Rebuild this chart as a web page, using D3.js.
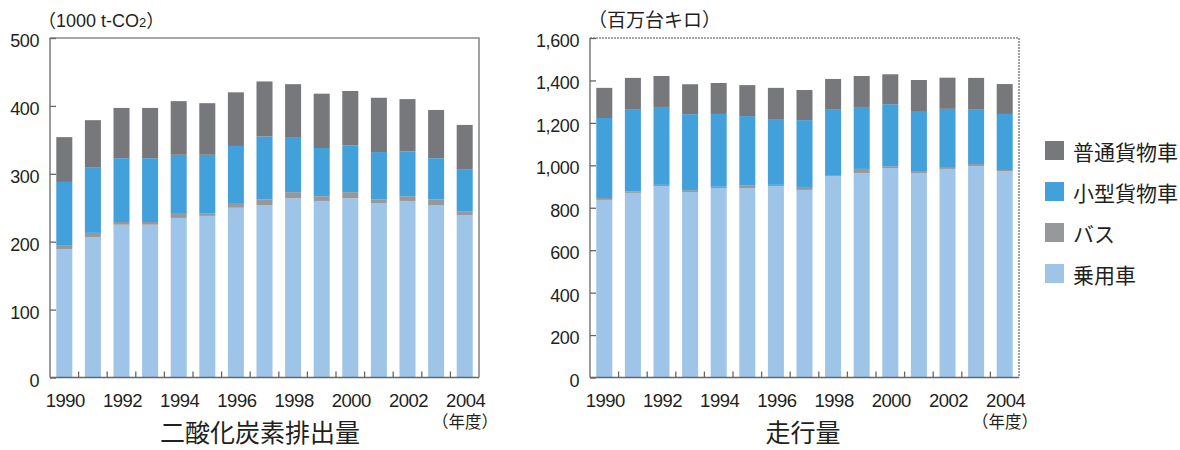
<!DOCTYPE html>
<html><head><meta charset="utf-8">
<script src="https://cdn.jsdelivr.net/npm/d3@7"></script>
<style>body{margin:0;background:#fff;} svg{display:block;}</style>
</head><body><svg id="c" width="1180" height="450"></svg>
<script>
const years = [1990,1991,1992,1993,1994,1995,1996,1997,1998,1999,2000,2001,2002,2003,2004];
const yearLabels = ["1990","1992","1994","1996","1998","2000","2002","2004"];
const seriesNames = ["乗用車","バス","小型貨物車","普通貨物車"];
const legendOrder = ["普通貨物車","小型貨物車","バス","乗用車"];

// CO2 emissions (1000 t-CO2)
const co2Car   = [189,207,225,225,235,238,250,254,264,260,264,257,260,254,239];
const co2Bus   = [6,6,4,4,6,4,7,8,9,7,9,5,7,8,6];
const co2Small = [93,96,94,94,87,86,84,93,80,71,69,70,66,61,61];
const co2Large = [66,70,74,74,79,76,79,81,79,80,80,80,77,71,66];
const co2Ticks = [0,100,200,300,400,500];

// Distance travelled (million vehicle-km)
const kmCar   = [837,870,902,874,893,892,902,884,949,964,987,964,983,997,973];
const kmBus   = [9,6,6,9,6,14,6,14,5,19,9,9,5,9,5];
const kmSmall = [377,389,367,358,343,326,310,315,311,292,292,283,278,259,264];
const kmLarge = [142,147,146,141,146,146,147,142,142,146,141,146,147,147,141];
const kmTicks = [0,200,400,600,800,1000,1200,1400,1600];

const colors = {"乗用車":"#9ec4e8","バス":"#97989b","小型貨物車":"#42a0db","普通貨物車":"#77787c"};
const numFont = "'Liberation Sans', Arial, sans-serif";
const cjkFont = "'Noto Sans CJK JP', sans-serif";

const svg = d3.select("#c");

function drawChart(opt){
  const {left,right,top,bottom,yMax,ticks,fmt,data,dashed,unitLabel,title,titleX} = opt;
  const table = years.map((y,i)=>({year:y,"乗用車":data[0][i],"バス":data[1][i],"小型貨物車":data[2][i],"普通貨物車":data[3][i]}));
  const x = d3.scaleBand().domain(years).range([left,right]).paddingInner(0.44).paddingOuter(0.22);
  const y = d3.scaleLinear().domain([0,yMax]).range([bottom,top]);
  const stack = d3.stack().keys(seriesNames)(table);
  const g = svg.append("g");

  g.selectAll("g.s").data(stack).join("g").attr("fill",d=>colors[d.key])
    .selectAll("rect").data(d=>d).join("rect")
    .attr("x",d=>x(d.data.year)).attr("width",x.bandwidth())
    .attr("y",d=>y(d[1])).attr("height",d=>y(d[0])-y(d[1]));

  const fr = g.append("path")
    .attr("d",`M${left},${top}H${right}V${bottom}`)
    .attr("fill","none").attr("stroke","#8a8a8a").attr("stroke-width",1.6);
  if(dashed) fr.attr("stroke-dasharray","2,1");

  const ya = g.append("g").attr("transform",`translate(${left},0)`)
    .call(d3.axisRight(y).tickValues(ticks).tickSize(6).tickFormat(""));
  ya.select(".domain").attr("stroke","#666").attr("stroke-width",1.3).attr("d",`M0,${top}V${bottom}`);
  ya.selectAll(".tick line").attr("stroke","#666").attr("stroke-width",1.3);
  g.selectAll("text.yl").data(ticks).join("text").attr("class","yl")
    .attr("x",left-11).attr("y",d=>y(d)+3).attr("text-anchor","end")
    .attr("dominant-baseline","central")
    .style("font-family",numFont).style("font-size","18px").style("letter-spacing","-0.4px")
    .attr("fill","#231f20").text(fmt);

  const step = x.step();
  g.append("line").attr("x1",left).attr("x2",right).attr("y1",bottom).attr("y2",bottom)
    .attr("stroke","#666").attr("stroke-width",1.3);
  g.selectAll("line.xt").data(years.slice(1)).join("line").attr("class","xt")
    .attr("x1",d=>x(d)-step*0.22).attr("x2",d=>x(d)-step*0.22)
    .attr("y1",bottom).attr("y2",bottom-6).attr("stroke","#666").attr("stroke-width",1.3);
  g.selectAll("text.xl").data(yearLabels).join("text").attr("class","xl")
    .attr("x",d=>x(+d)+x.bandwidth()/2+1).attr("y",407).attr("text-anchor","middle")
    .style("font-family",numFont).style("font-size","18.5px").style("letter-spacing","-0.5px")
    .attr("fill","#231f20").text(d=>d);

  g.append("text").attr("x",right-47).attr("y",428)
    .style("font-family",cjkFont).style("font-size","16.5px").attr("fill","#231f20").text("（年度）");

  g.append("text").attr("x",titleX).attr("y",442).attr("text-anchor","middle")
    .style("font-family",cjkFont).style("font-size","25px").attr("fill","#231f20").text(title);

  unitLabel(g);
}

drawChart({left:50,right:479,top:38,bottom:377.5,yMax:500,ticks:co2Ticks,fmt:d=>d,
  data:[co2Car,co2Bus,co2Small,co2Large],dashed:false,title:"二酸化炭素排出量",titleX:260,
  unitLabel:g=>{
    const t=g.append("text").attr("x",38).attr("y",27).attr("fill","#231f20")
      .style("font-family",numFont).style("font-size","18px");
    t.append("tspan").style("font-family",cjkFont).text("（");
    t.append("tspan").text("1000 t-CO");
    t.append("tspan").style("font-size","13px").text("2");
    t.append("tspan").style("font-family",cjkFont).text("）");
  }});

drawChart({left:590,right:1019,top:38,bottom:377.5,yMax:1600,ticks:kmTicks,fmt:d3.format(","),
  data:[kmCar,kmBus,kmSmall,kmLarge],dashed:true,title:"走行量",titleX:803,
  unitLabel:g=>{
    g.append("text").attr("x",588).attr("y",27).attr("fill","#231f20")
      .style("font-family",cjkFont).style("font-size","19px").text("（百万台キロ）");
  }});

const lg = svg.append("g").selectAll("g").data(legendOrder).join("g")
  .attr("transform",(d,i)=>`translate(1045,${141+i*41})`);
lg.append("rect").attr("width",19).attr("height",19).attr("fill",d=>colors[d]);
lg.append("text").attr("x",28).attr("y",9.5).attr("dominant-baseline","central")
  .style("font-family",cjkFont).style("font-size","21px").attr("fill","#231f20").text(d=>d);
</script></body></html>
